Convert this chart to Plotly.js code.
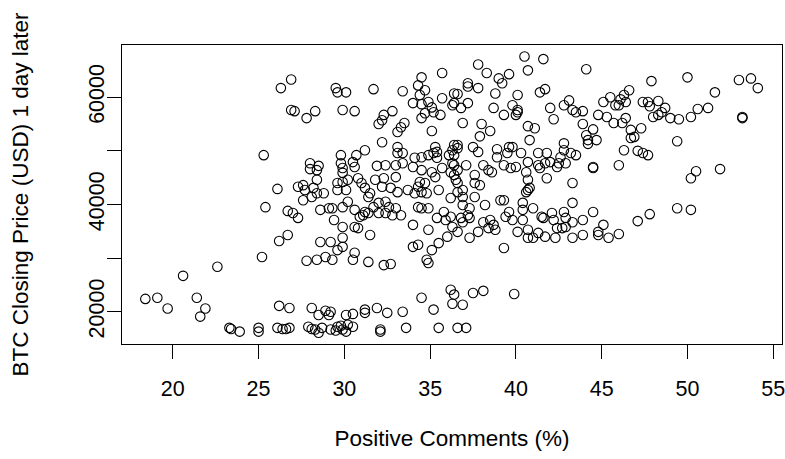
<!DOCTYPE html>
<html>
<head>
<meta charset="utf-8">
<script src="https://cdn.plot.ly/plotly-3.0.1.min.js"></script>
<style>html,body{margin:0;padding:0;background:#fff;}#chart{width:785px;height:459px;}</style>
</head>
<body>
<div id="chart"></div>
<script>
// Positive comments (%) and BTC closing price (USD) one day later
const positive = [
26.3,26.9,26.9,25.3,26.1,25.4,26.7,26.2,26.7,25.2,18.4,19.1,19.7,20.6,22.6,21.4,21.9,21.6,23.3,23.4,23.9,25.0,25.0,26.2,26.1,26.4,26.6,26.8,
27.9,28.1,28.5,28.7,29.2,29.6,29.9,30.2,30.5,32.1,32.1,33.6,35.5,36.6,37.1,28.3,29.5,29.8,30.1,
26.8,28.1,28.5,29.1,30.1,30.5,31.2,31.2,31.9,32.5,33.4,35.2,34.5,36.2,36.3,36.4,36.9,37.5,38.1,39.9,29.2,28.9,
27.8,28.4,28.9,29.3,30.5,30.6,31.4,32.3,32.7,34.8,34.9,
29.5,29.6,30.1,31.7,33.4,34.5,35.7,34.3,34.7,34.0,34.4,35.7,36.3,36.4,27.1,27.8,28.3,29.9,30.6,32.3,32.2,32.0,32.8,33.5,33.3,33.1,34.5,34.5,34.9,35.1,35.2,34.7,35.6,35.1,32.2,33.1,33.4,31.2,30.7,29.8,35.3,35.4,36.3,36.4,
40.5,41.6,37.8,38.3,39.0,39.6,39.2,40.7,44.1,37.2,37.2,37.8,36.6,38.8,40.1,41.4,41.7,36.4,36.8,37.2,38.7,39.3,39.8,40.1,40.1,40.0,42.0,42.2,42.8,43.1,43.3,43.5,43.9,36.9,38.0,38.5,37.9,40.7,41.1,40.8,43.9,44.5,44.1,44.2,44.7,44.2,42.8,42.8,44.8,45.3,45.1,45.5,45.8,45.7,36.6,36.6,37.5,37.8,38.9,39.6,39.8,40.3,41.3,41.8,43.5,
47.9,50.0,53.0,53.7,54.1,51.6,46.6,46.3,46.1,46.4,46.0,47.4,47.7,47.8,48.3,48.7,48.5,48.3,48.0,49.0,49.5,50.2,50.6,51.2,53.2,53.2,46.4,46.2,46.7,47.3,46.7,46.9,49.4,46.3,47.1,47.4,47.7,
46.0,50.2,50.5,51.9,49.4,50.2,47.8,47.1,46.0,
36.4,38.9,39.5,42.6,43.2,36.4,36.6,37.1,38.1,38.4,38.6,39.3,39.7,40.0,40.7,41.3,41.7,42.0,42.5,42.9,41.4,42.4,44.5,44.5,36.4,36.5,36.6,37.6,37.6,37.9,40.6,40.7,41.8,40.7,40.8,40.6,43.3,36.6,36.9,36.9,36.9,37.6,37.3,38.2,39.1,39.3,40.4,41.0,40.4,39.6,43.3,44.5,36.2,36.8,37.2,36.9,37.3,36.3,36.6,38.1,38.5,38.7,38.4,37.8,37.3,38.8,39.4,39.8,40.4,40.1,40.7,40.7,41.0,41.3,41.7,41.5,41.6,42.1,42.2,42.4,42.7,42.8,42.9,42.9,43.3,43.9,42.3,43.3,43.9,44.8,44.8,45.1,45.4,39.3,
28.0,28.5,28.0,28.4,29.8,29.9,30.5,30.6,29.9,31.9,32.4,33.0,33.4,33.1,34.1,34.5,34.9,35.2,35.4,36.1,36.3,35.7,36.2,35.1,34.5,34.0,30.8,31.0,32.3,33.0,31.8,28.4,29.6,29.9,30.2,29.6,30.1,27.3,27.6,27.7,28.2,28.8,28.4,28.1,27.6,31.2,31.5,31.4,32.2,32.7,33.1,33.7,34.3,34.5,34.8,34.1,34.7,34.4,35.5,36.2,35.3,30.2,29.9,29.1,29.3,28.6,30.6,31.2,31.7,32.0,32.4,32.6,33.0,32.8,33.3,32.4,32.0,31.1,30.9,31.4,27.0,27.3,34.3,34.5,34.9,34.0,34.9,35.8,35.9,35.4,29.4,29.9,30.6,30.8,31.5,28.6,29.2,29.9,29.9,29.6,34.0,34.3,35.1,35.5,36.0
];
const price = [
61700,63300,57600,49200,42900,39500,38800,33200,34300,30200,22400,22600,20600,26700,28400,22600,20600,19100,17000,16800,16300,17000,16300,21100,17000,16800,16800,17000,
17200,16800,16100,17000,16700,17200,16700,17600,17200,16700,16300,17000,17000,17000,17000,16700,16500,17400,16300,
20700,20700,19400,19400,19400,19600,20400,19800,20700,19800,20000,20400,22600,24100,21500,23200,21300,23500,23900,23300,20000,20200,
29500,29700,30200,29700,29700,31000,29300,28700,28900,29700,29100,
61700,60900,60900,61500,61100,63700,64500,62200,61300,58900,60400,59800,58500,60700,57400,56100,57400,57600,57400,56700,55700,55000,57400,55200,54400,53500,58700,56100,59100,58100,57200,57000,56700,53700,51600,50700,49600,50100,49200,49200,50700,49800,50100,51100,
67600,67100,66100,64500,63500,64300,62600,65000,65200,62600,62000,61700,60600,60700,60400,60900,61500,58900,58000,58900,58000,56700,58500,57600,57200,56700,58000,55900,58500,59400,57600,57200,57400,55200,55000,53700,52700,54600,54200,52000,55000,54000,52900,52000,52000,51300,51400,50100,56700,56300,59100,60000,58500,55200,51100,50500,50700,49800,50300,50700,50700,49600,49600,49600,49200,
63000,63700,63200,63500,61700,60900,61300,60400,59600,59100,58500,59100,59100,58300,59300,58000,57200,56700,56300,56100,55900,56300,57800,58000,56300,56100,56100,55200,53900,54200,52400,52600,51800,50100,50000,49600,49200,
47300,44900,46200,46600,39300,39000,38200,36900,34500,
49200,48800,49600,48800,49600,47300,46400,47300,47300,46400,46000,47300,46800,47000,47900,47300,47700,47900,47700,47700,46800,47000,46800,47000,45500,44600,44000,45500,44000,43600,46000,44600,44900,42700,43100,42300,44000,42300,42700,41400,39900,41400,39300,39900,40800,40800,40300,39300,39000,38600,40300,38600,37700,37500,38000,36700,37500,35800,34900,36700,37100,36200,35600,34900,33800,35300,37700,37100,37100,34900,35300,33800,33800,34700,34000,37700,37500,38400,37100,35600,35600,38600,37500,35800,36700,37100,33800,33800,34300,34300,34900,36200,33800,31900,
47700,47200,46600,46400,47700,46800,47900,47000,45900,47200,47300,47300,47700,49600,48700,48800,49200,49600,48700,49200,47700,46800,46000,46000,46400,47000,44900,44000,44900,45100,44600,44600,44000,44200,44600,42700,42700,43300,43600,42700,43100,42100,42100,41400,40800,43100,42100,41400,43300,43100,42300,42700,43300,42300,42100,42100,44000,44200,42700,41200,45100,40500,39500,39300,39300,39000,39000,38600,39500,40300,40500,39500,39300,38000,38000,38400,38400,38000,37700,38400,38400,37500,39500,39300,39300,36200,35300,38600,37100,37500,37100,35800,35800,35600,34300,33000,33000,33800,32100,31500,32100,32500,31500,32800,34000
];
const xTicks = [20, 25, 30, 35, 40, 45, 50, 55];
const yTicks = [20000, 30000, 40000, 50000, 60000];
const yTickText = ['20000', '', '40000', '', '60000'];

const font = 'Liberation Sans, Arial, Helvetica, sans-serif';
const trace = {
  x: positive, y: price, type: 'scatter', mode: 'markers',
  marker: {symbol: 'circle-open', size: 9.5, color: '#000', line: {color: '#000', width: 1.1}},
  hoverinfo: 'skip'
};
const layout = {
  width: 785, height: 459,
  margin: {l: 122, r: 3, t: 45, b: 115, pad: 0},
  paper_bgcolor: '#fff', plot_bgcolor: '#fff',
  showlegend: false,
  font: {family: font, color: '#000', size: 22},
  xaxis: {
    range: [17.04, 55.51], tickvals: xTicks, ticktext: xTicks.map(String),
    ticks: 'outside', ticklen: 14, tickwidth: 1, tickcolor: '#000',
    ticklabelstandoff: 11, ticklabeloverflow: 'allow',
    showline: true, mirror: true, linecolor: '#000', linewidth: 1,
    showgrid: false, zeroline: false, automargin: false,
    tickfont: {family: font, size: 21.5, color: '#000'},
    title: {text: 'Positive Comments (%)', font: {family: font, size: 22.5, color: '#000'}, standoff: 30}
  },
  yaxis: {
    range: [13991, 69730], tickvals: yTicks, ticktext: yTickText,
    tickangle: -90,
    ticks: 'outside', ticklen: 14, tickwidth: 1, tickcolor: '#000',
    ticklabelstandoff: -6, ticklabeloverflow: 'allow',
    showline: true, mirror: true, linecolor: '#000', linewidth: 1,
    showgrid: false, zeroline: false, automargin: false,
    tickfont: {family: font, size: 21.5, color: '#000'},
    title: {text: 'BTC Closing Price (USD) 1 day later', font: {family: font, size: 22.5, color: '#000'}, standoff: 50}
  }
};
Plotly.newPlot('chart', [trace], layout, {staticPlot: true, displayModeBar: false});
</script>
</body>
</html>
